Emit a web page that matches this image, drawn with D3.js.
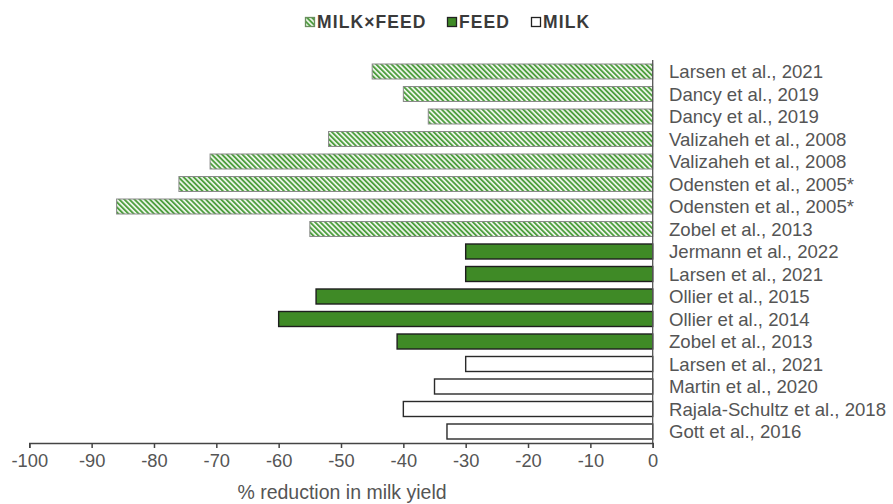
<!DOCTYPE html>
<html><head><meta charset="utf-8">
<script src="https://cdn.jsdelivr.net/npm/d3@7/dist/d3.min.js"></script>
<style>body{margin:0;background:#fff}svg{display:block}</style>
</head><body>
<svg id="chart" width="893" height="504"></svg>
<script>
const studies = ["Larsen et al., 2021","Dancy et al., 2019","Dancy et al., 2019","Valizaheh et al., 2008","Valizaheh et al., 2008","Odensten et al., 2005*","Odensten et al., 2005*","Zobel et al., 2013","Jermann et al., 2022","Larsen et al., 2021","Ollier et al., 2015","Ollier et al., 2014","Zobel et al., 2013","Larsen et al., 2021","Martin et al., 2020","Rajala-Schultz et al., 2018","Gott et al., 2016"];
const groups = ["MILK×FEED","MILK×FEED","MILK×FEED","MILK×FEED","MILK×FEED","MILK×FEED","MILK×FEED","MILK×FEED","FEED","FEED","FEED","FEED","FEED","MILK","MILK","MILK","MILK"];
const reductions = [-45,-40,-36,-52,-71,-76,-86,-55,-30,-30,-54,-60,-41,-30,-35,-40,-33];
const xTicks = [-100,-90,-80,-70,-60,-50,-40,-30,-20,-10,0];
const legendItems = ["MILK×FEED","FEED","MILK"];

const svg = d3.select("#chart");
const defs = svg.append("defs");
const pat = defs.append("pattern").attr("id","hatch").attr("patternUnits","userSpaceOnUse")
  .attr("width",3.6).attr("height",3.6).attr("patternTransform","rotate(-45)");
pat.append("rect").attr("width",3.6).attr("height",3.6).attr("fill","#f2f8ef");
pat.append("rect").attr("width",1.9).attr("height",3.6).attr("fill","#4f9f40");

const fills = {"MILK×FEED":"url(#hatch)","FEED":"#3f8a26","MILK":"#ffffff"};
const strokes = {"MILK×FEED":"#8a8a8a","FEED":"#1e1e1e","MILK":"#2a2a2a"};
const strokeW = {"MILK×FEED":1,"FEED":1.4,"MILK":1.4};

const idx = d3.range(studies.length);
const x = d3.scaleLinear().domain([-100,0]).range([29.3,652.7]);
const y = d3.scaleBand().domain(idx).range([60.25,442.75]).paddingInner(1/3).paddingOuter(1/6);

const font = "'Liberation Sans', Arial, Helvetica, sans-serif";

svg.append("g").selectAll("rect").data(idx).join("rect")
  .attr("x", i => x(reductions[i]))
  .attr("y", i => y(i))
  .attr("width", i => x(0) - x(reductions[i]))
  .attr("height", y.bandwidth())
  .attr("fill", i => fills[groups[i]])
  .attr("stroke", i => strokes[groups[i]])
  .attr("stroke-width", i => strokeW[groups[i]]);

// vertical axis line at 0
svg.append("line").attr("x1",x(0)).attr("x2",x(0)).attr("y1",60).attr("y2",443)
  .attr("stroke","#555").attr("stroke-width",1.3);

// labels
svg.append("g").selectAll("text").data(idx).join("text")
  .attr("x", 669).attr("y", i => y(i) + y.bandwidth()/2)
  .attr("dy","0.36em")
  .attr("font-family",font).attr("font-size",18.6).attr("fill","#555")
  .text(i => studies[i]);

// x axis
const xAxis = d3.axisBottom(x).tickValues(xTicks).tickSize(5).tickPadding(6).tickFormat(d => d);
const gx = svg.append("g").attr("transform","translate(0,443)").call(xAxis);
gx.select(".domain").attr("stroke","#444").attr("stroke-width",1.5);
gx.selectAll(".tick line").attr("stroke","#444").attr("stroke-width",1.5);
gx.selectAll(".tick text").attr("font-family",font).attr("font-size",18.3).attr("fill","#555");

svg.append("text").attr("x",342).attr("y",499).attr("text-anchor","middle")
  .attr("font-family",font).attr("font-size",19.5).attr("fill","#555")
  .text("% reduction in milk yield");

// legend
const legX = [305, 447, 531];
const lg = svg.append("g").selectAll("g").data(legendItems).join("g")
  .attr("transform",(d,i)=>`translate(${legX[i]},17)`);
lg.append("rect").attr("width",9).attr("height",9).attr("x",0.5).attr("y",0.5)
  .attr("fill",d=>fills[d]).attr("stroke",d=>d==="MILK×FEED"?"#6a8f5e":"#222").attr("stroke-width",1.3);
lg.append("text").attr("x",12).attr("y",5).attr("dy","0.36em")
  .attr("font-family",font).attr("font-weight","bold").attr("font-size",17.5).attr("letter-spacing",1.1)
  .attr("fill","#3a3a3a").text(d=>d);
</script>
</body></html>
